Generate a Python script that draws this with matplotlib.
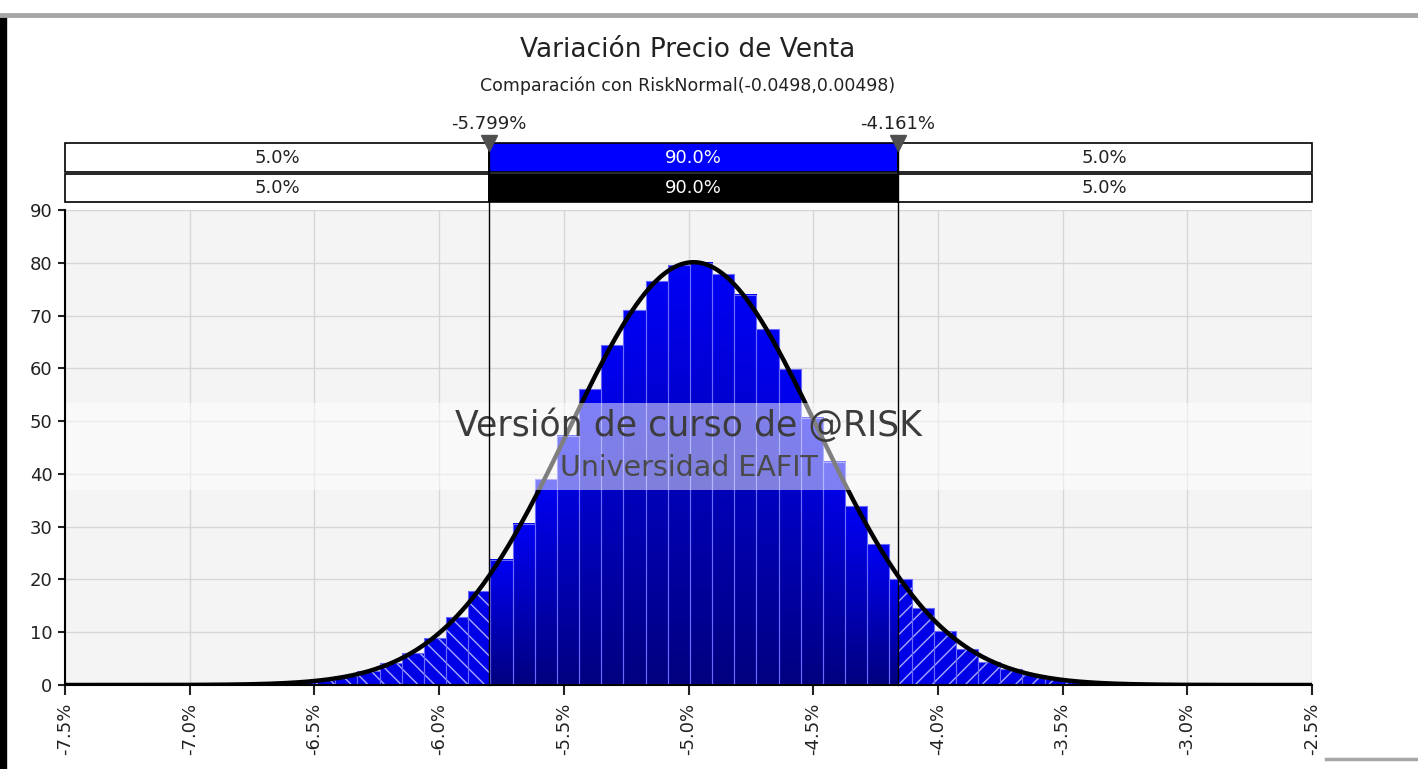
import numpy as np
import matplotlib
matplotlib.use("Agg")
import matplotlib.pyplot as plt
import matplotlib.transforms as mtransforms
from matplotlib.patches import Rectangle
from matplotlib.lines import Line2D
from matplotlib.colors import LinearSegmentedColormap
from matplotlib.ticker import FuncFormatter

# ---- data ----
title = "Variación Precio de Venta"
subtitle = "Comparación con RiskNormal(-0.0498,0.00498)"
watermark_1 = "Versión de curso de @RISK"
watermark_2 = "Universidad EAFIT"

fit_mean = -0.0498
fit_sd = 0.00498
left_delim = -0.05799
right_delim = -0.04161
sim_band_labels = ["5.0%", "90.0%", "5.0%"]
fit_band_labels = ["5.0%", "90.0%", "5.0%"]

bin_first_edge = -0.07039
bin_width = 0.000889
density = [0.03, 0.05, 0.1, 0.18, 0.32, 0.55, 1.0, 1.7, 2.7, 4.2,
           6.1, 8.9, 12.9, 17.9, 23.7, 30.6, 39.0, 47.2, 56.0, 64.4,
           71.0, 76.5, 79.5, 80.0, 77.8, 73.9, 67.4, 59.8, 50.6, 42.3,
           33.9, 26.7, 20.0, 14.5, 10.3, 6.9, 4.4, 3.0, 1.9, 1.1,
           0.65, 0.38, 0.2, 0.1, 0.06, 0.03]

x_ticks = [-0.075, -0.070, -0.065, -0.060, -0.055, -0.050,
           -0.045, -0.040, -0.035, -0.030, -0.025]
y_ticks = [0, 10, 20, 30, 40, 50, 60, 70, 80, 90]

plt.rcParams['font.family'] = ['DejaVu Sans']

fig = plt.figure(figsize=(14.18, 7.69), dpi=100)
ax = fig.add_axes([65 / 1418, 84 / 769, 1247 / 1418, 475 / 769])
ax.set_facecolor('#f4f4f4')

edges = bin_first_edge + bin_width * np.arange(len(density) + 1)
bar_cmap = LinearSegmentedColormap.from_list('bar', ['#00007f', '#0000f5'])
grad = np.linspace(0, 1, 256).reshape(-1, 1)

for i, h in enumerate(density):
    x0, x1 = edges[i], edges[i + 1]
    s0, s1 = max(x0, left_delim), min(x1, right_delim)
    if s1 > s0:
        ax.imshow(grad, extent=(s0, s1, 0, h), origin='lower', aspect='auto',
                  cmap=bar_cmap, zorder=2, interpolation='bilinear')
    if x0 < left_delim:
        r = min(x1, left_delim)
        ax.bar(x0, h, width=r - x0, align='edge', color='#0000e6',
               edgecolor='#a8a8ff', linewidth=0, hatch='\\\\', zorder=2)
    if x1 > right_delim:
        l = max(x0, right_delim)
        ax.bar(l, h, width=x1 - l, align='edge', color='#0000e6',
               edgecolor='#a8a8ff', linewidth=0, hatch='//', zorder=2)
    ax.bar(x0, h, width=bin_width, align='edge', facecolor='none',
           edgecolor='#6a6aff', linewidth=0.8, zorder=3)

xs = np.linspace(-0.075, -0.025, 800)
ys = np.exp(-0.5 * ((xs - fit_mean) / fit_sd) ** 2) / (fit_sd * np.sqrt(2 * np.pi))
ax.plot(xs, ys, color='black', lw=3.2, zorder=4, solid_capstyle='butt')

# watermark band
ax.axhspan(36.9, 53.4, color='white', alpha=0.5, lw=0, zorder=5)
ax.text(-0.05, 49.2, watermark_1, ha='center', va='center', fontsize=25,
        color='#3c3c3c', zorder=6)
ax.text(-0.05, 41.2, watermark_2, ha='center', va='center', fontsize=20.5,
        color='#4a4a4a', zorder=6)

ax.set_xlim(-0.075, -0.025)
ax.set_ylim(0, 90)
ax.set_xticks(x_ticks)
ax.set_yticks(y_ticks)
ax.xaxis.set_major_formatter(FuncFormatter(lambda v, p: f"{v * 100:.1f}%"))
ax.tick_params(axis='x', labelrotation=90, length=7, width=1.5, pad=6,
               labelsize=13, colors='#222222')
ax.tick_params(axis='y', length=5, width=1.5, pad=4, labelsize=13,
               colors='#222222')
ax.grid(True, color='#d6d6d6', lw=1)
ax.set_axisbelow(True)
for s in ['top', 'right']:
    ax.spines[s].set_visible(False)
for s in ['left', 'bottom']:
    ax.spines[s].set_linewidth(1.5)
    ax.spines[s].set_zorder(8)

# delimiter bars above the plot
trans = mtransforms.blended_transform_factory(ax.transData, ax.transAxes)
segs = [(-0.075, left_delim), (left_delim, right_delim), (right_delim, -0.025)]
rows = [(1.080, 1.141, sim_band_labels, '#0000ff'),
        (1.017, 1.076, fit_band_labels, 'black')]
for y0, y1, labels, mid in rows:
    for j, (a, b) in enumerate(segs):
        fc = mid if j == 1 else 'white'
        tc = 'white' if j == 1 else '#222222'
        ax.add_patch(Rectangle((a, y0), b - a, y1 - y0, transform=trans,
                               facecolor=fc, edgecolor='black', lw=1.2,
                               clip_on=False, zorder=7))
        ax.text((a + b) / 2, (y0 + y1) / 2, labels[j], transform=trans,
                ha='center', va='center', fontsize=13, color=tc, zorder=8)

for d in [left_delim, right_delim]:
    ax.plot([d, d], [0, 1.141], transform=trans, color='black', lw=1,
            clip_on=False, zorder=9)
    ax.plot(d, 1.141, marker='v', ms=11, color='#505050', transform=trans,
            clip_on=False, zorder=10)
    ax.text(d, 1.181, f"{d * 100:.3f}%", transform=trans, ha='center',
            va='center', fontsize=13, color='#222222')

fig.text(688 / 1418, 1 - 50 / 769, title, ha='center', va='center',
         fontsize=19, color='#222222')
fig.text(688 / 1418, 1 - 86 / 769, subtitle, ha='center', va='center',
         fontsize=12.5, color='#222222')

# screenshot frame remnants
fig.add_artist(Line2D([0, 1], [1 - 15 / 769] * 2, color='#a6a6a6', lw=3.5,
                      transform=fig.transFigure))
fig.add_artist(Rectangle((0, 0), 6 / 1418, 1 - 17 / 769, color='black',
                         transform=fig.transFigure))
fig.add_artist(Line2D([1326 / 1418, 1], [1 - 759 / 769] * 2, color='#a6a6a6',
                      lw=2.5, transform=fig.transFigure))

fig.savefig('out.png', dpi=100)
